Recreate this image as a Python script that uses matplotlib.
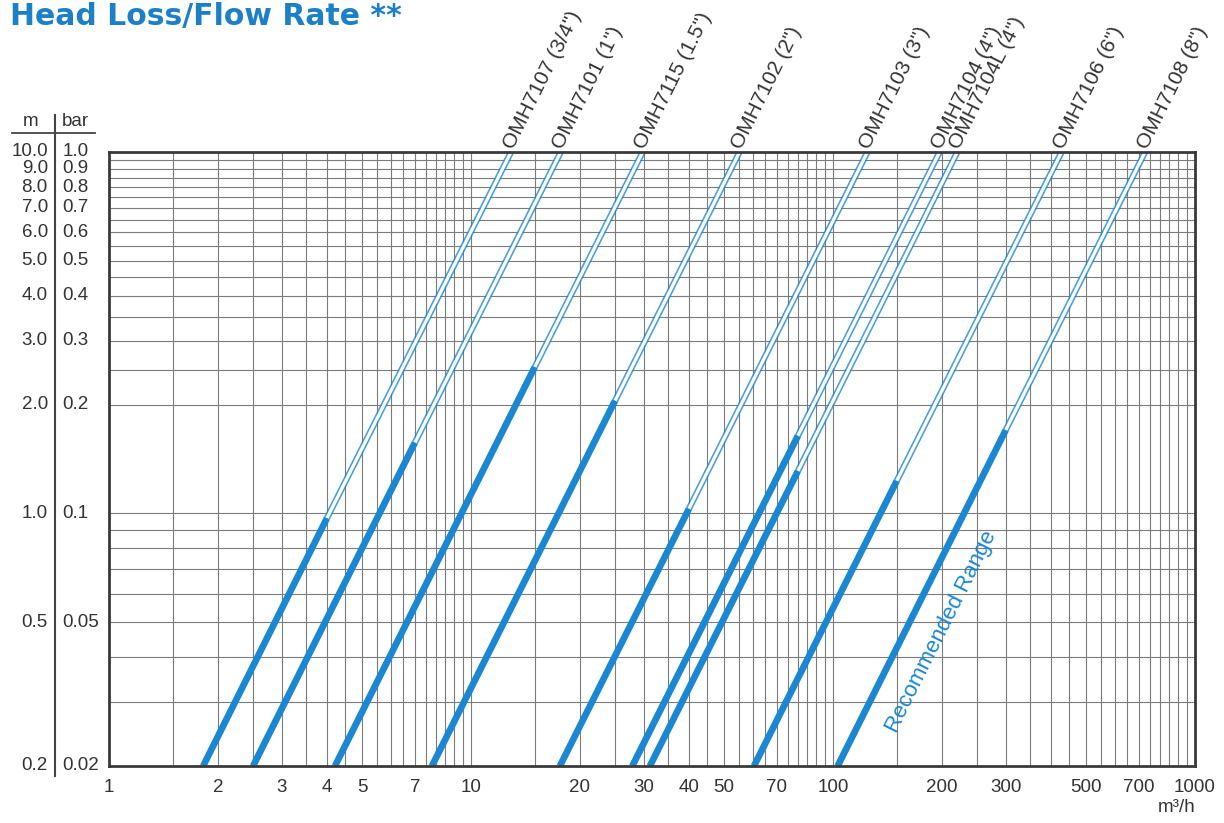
import numpy as np
import matplotlib
matplotlib.use("Agg")
import matplotlib.pyplot as plt
from matplotlib.lines import Line2D
from matplotlib.transforms import blended_transform_factory

# --- Daten ---
models = ['OMH7107 (3/4")', 'OMH7101 (1")', 'OMH7115 (1.5")', 'OMH7102 (2")',
          'OMH7103 (3")', 'OMH7104 (4")', 'OMH7104L (4")', 'OMH7106 (6")', 'OMH7108 (8")']
q_start = [1.82, 2.5, 4.21, 7.8, 17.6, 27.9, 31.2, 60.5, 103]      # m3/h bei 0.2 m
h_start = [0.2] * 9
q_rec   = [4.0, 7.0, 15, 25, 40, 80, 80, 150, 300]                # Ende empfohlener Bereich
h_rec   = [0.97, 1.57, 2.54, 2.05, 1.03, 1.64, 1.31, 1.23, 1.70]
q_end   = [12.9, 17.7, 29.8, 55.2, 124.5, 197, 220.6, 428, 728]   # m3/h bei 10 m
h_end   = [10.0] * 9

x_ticks  = [1, 2, 3, 4, 5, 7, 10, 20, 30, 40, 50, 70, 100, 200, 300, 500, 700, 1000]
m_ticks  = [10.0, 9.0, 8.0, 7.0, 6.0, 5.0, 4.0, 3.0, 2.0, 1.0, 0.5, 0.2]
bar_ticks = [1.0, 0.9, 0.8, 0.7, 0.6, 0.5, 0.4, 0.3, 0.2, 0.1, 0.05, 0.02]

BLUE = "#1A87D2"
GRID = "#7c7c7c"
TXT  = "#333333"
FONT = ["Liberation Sans Narrow", "Liberation Sans", "DejaVu Sans"]

W, H = 1224, 823
fig = plt.figure(figsize=(W / 100, H / 100), dpi=100)
ax = fig.add_axes([109 / W, 1 - 766 / H, (1195 - 109) / W, (766 - 152) / H])
ax.set_xscale("log")
ax.set_yscale("log")
ax.set_xlim(1, 1000)
ax.set_ylim(0.2, 10)

# Gitter
xg = [m * d for d in (1, 10, 100) for m in np.arange(1.5, 10.01, 0.5)]
yg = list(np.arange(0.3, 1.01, 0.1)) + list(np.arange(2.0, 10.0, 0.5))
for v in xg:
    ax.axvline(v, color=GRID, lw=0.8, zorder=1)
for v in yg:
    ax.axhline(v, color=GRID, lw=0.8, zorder=1)

# Kennlinien
for i in range(len(models)):
    ax.plot([q_rec[i], q_end[i]], [h_rec[i], h_end[i]], color=BLUE, lw=4.6,
            solid_capstyle="butt", alpha=0.8, zorder=3)
    ax.plot([q_rec[i], q_end[i]], [h_rec[i], h_end[i]], color="white", lw=2.3,
            solid_capstyle="butt", zorder=4)
    ax.plot([q_start[i], q_rec[i]], [h_start[i], h_rec[i]], color=BLUE, lw=4.8,
            solid_capstyle="butt", zorder=5)
    ax.annotate(models[i], (q_end[i], h_end[i]), xytext=(-2, 3),
                textcoords="offset points", rotation=63.4, rotation_mode="anchor",
                ha="left", va="center", fontsize=15, color=TXT, family=FONT,
                annotation_clip=False)

ax.text(200, 0.47, "Recommended Range", rotation=63.4, rotation_mode="anchor",
        ha="center", va="center", fontsize=16, color=BLUE, family=FONT, zorder=6)

# Achsen
ax.set_xticks(x_ticks)
ax.set_xticklabels([str(v) for v in x_ticks], family=FONT, fontsize=13.5, color=TXT)
ax.xaxis.set_minor_locator(matplotlib.ticker.NullLocator())
ax.yaxis.set_minor_locator(matplotlib.ticker.NullLocator())
ax.set_yticks([])
ax.tick_params(axis="x", length=0, pad=9)
for s in ax.spines.values():
    s.set_linewidth(2.0)
    s.set_color("#3a3a3a")
    s.set_zorder(7)

# Linke Skala m | bar
tr = blended_transform_factory(ax.transAxes, ax.transData)
for m in m_ticks:
    lbl = f"{m:.1f}" if m >= 0.5 else "0.2"
    ax.text(-0.0563, m, lbl, transform=tr, ha="right", va="center",
            fontsize=13.5, color=TXT, family=FONT, clip_on=False)
for b in bar_ticks:
    ax.text(-0.0427, b * 10, f"{b:g}" if b < 1 else "1.0", transform=tr, ha="left",
            va="center", fontsize=13.5, color=TXT, family=FONT, clip_on=False)

fig.text(31 / W, 1 - 122 / H, "m", ha="center", va="center", fontsize=13.5, color=TXT, family=FONT)
fig.text(62 / W, 1 - 122 / H, "bar", ha="left", va="center", fontsize=13.5, color=TXT, family=FONT)
fig.add_artist(Line2D([12 / W, 95 / W], [1 - 133 / H, 1 - 133 / H], color="#444", lw=1.3))
fig.add_artist(Line2D([54.5 / W, 54.5 / W], [1 - 115 / H, 1 - 776 / H], color="#444", lw=1.5))

fig.text(1196 / W, 1 - 808 / H, "m³/h", ha="right", va="center", fontsize=13.5,
         color=TXT, family=FONT)

fig.text(10 / W, 1 - 17 / H, "Head Loss/Flow Rate **", ha="left", va="center",
         fontsize=21.5, fontweight="bold", color="#1C80C8", family="DejaVu Sans")

fig.savefig("out.png", dpi=100)
